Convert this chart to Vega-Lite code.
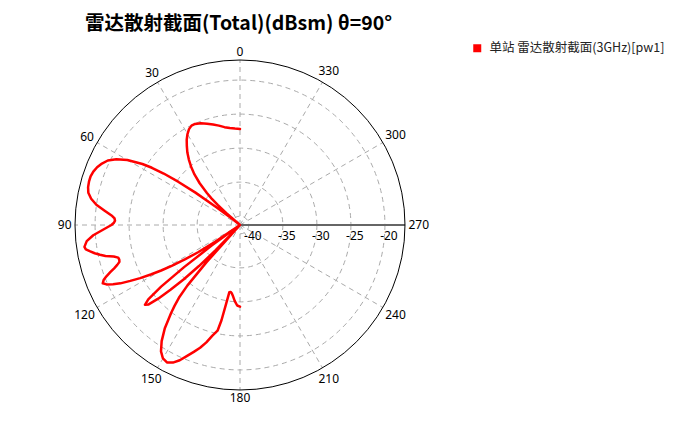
{
  "$schema": "https://vega.github.io/schema/vega-lite/v6.json",
  "width": 330,
  "height": 330,
  "autosize": {"type": "none"},
  "padding": {"left": 75, "top": 60, "right": 269, "bottom": 35},
  "background": "white",
  "config": {"view": {"stroke": null}},
  "title": {"text": "雷达散射截面(Total)(dBsm) θ=90°", "anchor": "start", "frame": "group", "dx": 10, "fontSize": 19.5, "fontWeight": "bold", "font": "Noto Sans CJK SC", "color": "#000000", "offset": 8},
  "layer": [
    {
      "data": {"values": [{"db": -40}, {"db": -35}, {"db": -30}, {"db": -25}, {"db": -20}]},
      "transform": [
        {"calculate": "0", "as": "z"},
        {"calculate": "pow(2*(datum.db + 41.3)*6.804, 2)", "as": "sz"}
      ],
      "mark": {"type": "point", "shape": "circle", "filled": false, "stroke": "#aaaaaa", "strokeWidth": 1, "strokeDash": [5, 4], "opacity": 1},
      "encoding": {
        "x": {"field": "z", "type": "quantitative", "scale": {"domain": [-1, 1]}, "axis": null},
        "y": {"field": "z", "type": "quantitative", "scale": {"domain": [-1, 1]}, "axis": null},
        "size": {"field": "sz", "type": "quantitative", "scale": null}
      }
    },
    {
      "data": {"values": [{"a": 0}, {"a": 30}, {"a": 60}, {"a": 90}, {"a": 120}, {"a": 150}, {"a": 180}, {"a": 210}, {"a": 240}, {"a": 300}, {"a": 330}]},
      "transform": [
        {"calculate": "0", "as": "z"},
        {"calculate": "-sin(datum.a*PI/180)", "as": "x2"},
        {"calculate": "cos(datum.a*PI/180)", "as": "y2"}
      ],
      "mark": {"type": "rule", "stroke": "#aaaaaa", "strokeWidth": 1, "strokeDash": [5, 4]},
      "encoding": {
        "x": {"field": "z", "type": "quantitative"},
        "y": {"field": "z", "type": "quantitative"},
        "x2": {"field": "x2"},
        "y2": {"field": "y2"}
      }
    },
    {
      "data": {"values": [{"a": 270}]},
      "transform": [
        {"calculate": "0", "as": "z"},
        {"calculate": "-sin(datum.a*PI/180)", "as": "x2"},
        {"calculate": "cos(datum.a*PI/180)", "as": "y2"}
      ],
      "mark": {"type": "rule", "stroke": "#666666", "strokeWidth": 2},
      "encoding": {
        "x": {"field": "z", "type": "quantitative"},
        "y": {"field": "z", "type": "quantitative"},
        "x2": {"field": "x2"},
        "y2": {"field": "y2"}
      }
    },
    {
      "data": {"values": [{"db": -17.05}]},
      "transform": [
        {"calculate": "0", "as": "z"},
        {"calculate": "pow(2*(datum.db + 41.3)*6.804, 2)", "as": "sz"}
      ],
      "mark": {"type": "point", "shape": "circle", "filled": false, "stroke": "#000000", "strokeWidth": 1, "opacity": 1},
      "encoding": {
        "x": {"field": "z", "type": "quantitative"},
        "y": {"field": "z", "type": "quantitative"},
        "size": {"field": "sz", "type": "quantitative", "scale": null}
      }
    },
    {
      "data": {"values": [{"a": 0}, {"a": 30}, {"a": 60}, {"a": 90}, {"a": 120}, {"a": 150}, {"a": 180}, {"a": 210}, {"a": 240}, {"a": 270}, {"a": 300}, {"a": 330}]},
      "transform": [
        {"calculate": "'' + datum.a", "as": "t"},
        {"calculate": "1 + (3.5 + 3.4*length(datum.t)*abs(sin(datum.a*PI/180)) + 4.5*abs(cos(datum.a*PI/180)))/165", "as": "rr"},
        {"calculate": "-datum.rr*sin(datum.a*PI/180)", "as": "x"},
        {"calculate": "datum.rr*cos(datum.a*PI/180)", "as": "y"}
      ],
      "mark": {"type": "text", "font": "Noto Sans", "fontSize": 12, "color": "#000000", "align": "center", "baseline": "middle"},
      "encoding": {
        "x": {"field": "x", "type": "quantitative"},
        "y": {"field": "y", "type": "quantitative"},
        "text": {"field": "t", "type": "nominal"}
      }
    },
    {
      "data": {"values": [{"db": -40}, {"db": -35}, {"db": -30}, {"db": -25}, {"db": -20}]},
      "transform": [
        {"calculate": "0", "as": "z"},
        {"calculate": "(datum.db + 41.3)/24.25", "as": "x"},
        {"calculate": "'' + datum.db", "as": "t"}
      ],
      "mark": {"type": "text", "font": "Noto Sans", "fontSize": 12, "color": "#000000", "align": "center", "baseline": "middle", "dx": 4, "dy": 11},
      "encoding": {
        "x": {"field": "x", "type": "quantitative"},
        "y": {"field": "z", "type": "quantitative"},
        "text": {"field": "t", "type": "nominal"}
      }
    },
    {
      "data": {"values": [
        {"a": 0, "db": -27.18}, {"a": 3, "db": -27.11}, {"a": 6, "db": -26.96}, {"a": 9, "db": -26.74}, {"a": 12, "db": -26.37},
        {"a": 15, "db": -26.01}, {"a": 18, "db": -25.64}, {"a": 21, "db": -25.27}, {"a": 24, "db": -25.05}, {"a": 26, "db": -25.05},
        {"a": 28, "db": -25.34}, {"a": 30, "db": -25.86}, {"a": 32, "db": -26.52}, {"a": 34, "db": -27.33}, {"a": 36, "db": -28.14},
        {"a": 38, "db": -29.09}, {"a": 40, "db": -30.12}, {"a": 42, "db": -31.3}, {"a": 44, "db": -32.77}, {"a": 46, "db": -34.54},
        {"a": 47, "db": -35.56}, {"a": 48, "db": -36.89}, {"a": 49, "db": -38.65}, {"a": 50, "db": -45}, {"a": 51, "db": -45},
        {"a": 52, "db": -39.83}, {"a": 53, "db": -36.89}, {"a": 54, "db": -33.21}, {"a": 55, "db": -30.27}, {"a": 56, "db": -27.77},
        {"a": 57, "db": -25.86}, {"a": 58, "db": -24.39}, {"a": 60, "db": -22.18}, {"a": 62, "db": -20.71}, {"a": 64, "db": -19.68},
        {"a": 66, "db": -19.09}, {"a": 68, "db": -18.65}, {"a": 70, "db": -18.36}, {"a": 72, "db": -18.21}, {"a": 74, "db": -18.21},
        {"a": 76, "db": -18.29}, {"a": 78, "db": -18.51}, {"a": 80, "db": -19.09}, {"a": 82, "db": -19.98}, {"a": 84, "db": -21.3},
        {"a": 86, "db": -22.48}, {"a": 87, "db": -22.84}, {"a": 88, "db": -22.92}, {"a": 89, "db": -22.77}, {"a": 90, "db": -22.4},
        {"a": 92, "db": -21.15}, {"a": 94, "db": -19.68}, {"a": 96, "db": -18.65}, {"a": 98, "db": -18.21}, {"a": 99, "db": -18.36},
        {"a": 100, "db": -18.95}, {"a": 101, "db": -19.54}, {"a": 102, "db": -20.27}, {"a": 103, "db": -21.01}, {"a": 104, "db": -22.18},
        {"a": 105, "db": -22.77}, {"a": 106, "db": -22.84}, {"a": 107, "db": -22.77}, {"a": 108, "db": -22.33}, {"a": 109, "db": -21.74},
        {"a": 110, "db": -21.01}, {"a": 111, "db": -20.27}, {"a": 112, "db": -19.68}, {"a": 113, "db": -19.39}, {"a": 114, "db": -19.83},
        {"a": 115, "db": -20.71}, {"a": 116, "db": -21.74}, {"a": 117, "db": -23.21}, {"a": 118, "db": -24.68}, {"a": 119, "db": -26.3},
        {"a": 120, "db": -27.92}, {"a": 121, "db": -29.68}, {"a": 122, "db": -31.74}, {"a": 123, "db": -33.95}, {"a": 124, "db": -36.89},
        {"a": 125, "db": -45}, {"a": 126, "db": -36.15}, {"a": 127, "db": -31.01}, {"a": 128, "db": -26.59}, {"a": 129, "db": -23.95},
        {"a": 130, "db": -23.06}, {"a": 131, "db": -23.51}, {"a": 132, "db": -25.12}, {"a": 133, "db": -27.33}, {"a": 134, "db": -29.83},
        {"a": 135, "db": -32.77}, {"a": 136, "db": -36.15}, {"a": 137, "db": -45}, {"a": 138, "db": -33.95}, {"a": 139, "db": -29.54},
        {"a": 140, "db": -27.33}, {"a": 141, "db": -26.01}, {"a": 142, "db": -24.83}, {"a": 144, "db": -22.48}, {"a": 146, "db": -20.71},
        {"a": 148, "db": -19.39}, {"a": 150, "db": -18.65}, {"a": 152, "db": -18.43}, {"a": 154, "db": -18.8}, {"a": 156, "db": -19.54},
        {"a": 158, "db": -20.56}, {"a": 160, "db": -21.45}, {"a": 162, "db": -22.33}, {"a": 164, "db": -23.36}, {"a": 166, "db": -24.54},
        {"a": 168, "db": -25.42}, {"a": 169, "db": -27.04}, {"a": 170, "db": -29.54}, {"a": 171, "db": -31.3}, {"a": 172, "db": -31.37},
        {"a": 173, "db": -31.23}, {"a": 174, "db": -30.93}, {"a": 176, "db": -30.12}, {"a": 178, "db": -29.46}, {"a": 180, "db": -29.29}
      ]},
      "transform": [
        {"calculate": "'单站 雷达散射截面(3GHz)[pw1]'", "as": "s"},
        {"calculate": "max(0, (datum.db + 41.3)/24.25)", "as": "r"},
        {"calculate": "-datum.r*sin(datum.a*PI/180)", "as": "x"},
        {"calculate": "datum.r*cos(datum.a*PI/180)", "as": "y"}
      ],
      "mark": {"type": "line", "strokeWidth": 2.5, "strokeJoin": "round", "strokeCap": "round"},
      "encoding": {
        "x": {"field": "x", "type": "quantitative"},
        "y": {"field": "y", "type": "quantitative"},
        "order": {"field": "a", "type": "quantitative"},
        "color": {"field": "s", "type": "nominal", "scale": {"range": ["#ff0000"]},
          "legend": {"orient": "none", "legendX": 396, "legendY": -18, "title": null, "padding": 0, "symbolType": "square", "symbolSize": 64, "symbolFillColor": "#ff0000", "symbolStrokeWidth": 0, "labelFont": "Noto Sans CJK SC", "labelFontSize": 12.5, "labelColor": "#222222", "labelOffset": 6, "labelLimit": 300}}
      }
    }
  ]
}
